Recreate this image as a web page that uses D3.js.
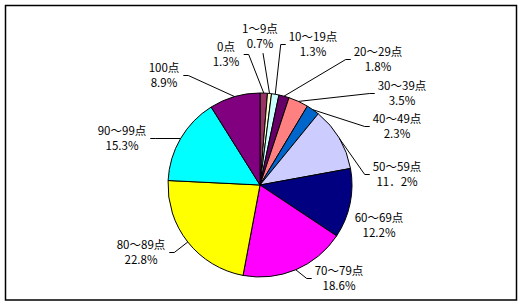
<!DOCTYPE html>
<html>
<head>
<meta charset="utf-8">
<script src="https://cdn.jsdelivr.net/npm/d3@7"></script>
<style>
  body { margin: 0; background: #fff; }
  text { font-family: "Noto Sans CJK JP", "DejaVu Sans", sans-serif; font-size: 11.5px; fill: #000; }
</style>
</head>
<body>
<div class="chart"></div>
<script>
// score bands and their share (%)
const categories = ['0点', '1～9点', '10～19点', '20～29点', '30～39点', '40～49点',
    '50～59点', '60～69点', '70～79点', '80～89点', '90～99点', '100点'];
const shares = [1.3, 0.7, 1.3, 1.8, 3.5, 2.3, 11.2, 12.2, 18.6, 22.8, 15.3, 8.9];
const shareLabels = ['1.3%', '0.7%', '1.3%', '1.8%', '3.5%', '2.3%',
    '11．2%', '12.2%', '18.6%', '22.8%', '15.3%', '8.9%'];

const colors = ['#993366', '#ffffcc', '#ccffff', '#660066', '#ff8080', '#0066cc',
    '#ccccff', '#000080', '#ff00ff', '#ffff00', '#00ffff', '#800080'];

// label placement (center of first line) and where the leader leaves the label
const labelXY = [[226, 47], [260, 29], [313, 37], [378, 52], [402, 86], [397, 119],
    [397, 167], [379, 218], [339, 271], [141, 245], [122, 131], [164, 68]];
const leaderSide = ['r', 'b', 'l', 'l', 'l', 'l', 'l', null, 'l', 'r', 'r', 'r'];

const width = 527, height = 306;
const cx = 260, cy = 185, radius = 92;

const svg = d3.select('.chart')
    .append('svg')
    .attr('width', width)
    .attr('height', height);

// frame
svg.append('rect')
    .attr('x', 5.5)
    .attr('y', 5.5)
    .attr('width', 511)
    .attr('height', 294.5)
    .attr('fill', 'none')
    .attr('stroke', '#000')
    .attr('stroke-width', 1.5);

const data = categories.map((c, i) => ({name: c, value: shares[i], label: shareLabels[i], i: i}));

const pie = d3.pie()
    .sort(null)
    .value(d => d.value);

const arc = d3.arc()
    .innerRadius(0)
    .outerRadius(radius);

const arcs = pie(data);

const g = svg.append('g')
    .attr('transform', `translate(${cx},${cy})`);

g.selectAll('path')
    .data(arcs)
    .enter()
    .append('path')
    .attr('d', arc)
    .attr('fill', d => colors[d.data.i])
    .attr('stroke', '#000')
    .attr('stroke-width', 1)
    .attr('stroke-linejoin', 'round');

// labels
const labels = svg.selectAll('.lbl')
    .data(arcs)
    .enter()
    .append('text')
    .attr('class', 'lbl')
    .attr('text-anchor', 'middle')
    .attr('x', d => labelXY[d.data.i][0])
    .attr('y', d => labelXY[d.data.i][1]);

labels.append('tspan')
    .attr('x', d => labelXY[d.data.i][0])
    .attr('dy', '0.36em')
    .text(d => d.data.name);

labels.append('tspan')
    .attr('x', d => labelXY[d.data.i][0])
    .attr('dy', 15)
    .text(d => d.data.label);

// leader lines
const line = d3.line();
labels.each(function(d) {
    const side = leaderSide[d.data.i];
    if (!side) return;
    const box = this.getBBox();
    const mid = (d.startAngle + d.endAngle) / 2;
    const end = [cx + radius * Math.sin(mid), cy - radius * Math.cos(mid)];
    const ly = labelXY[d.data.i][1] + 7.5;
    let pts;
    if (side === 'l') {
        pts = [[box.x - 3, ly], [box.x - 8, ly], end];
    } else if (side === 'r') {
        pts = [[box.x + box.width + 4, ly], [box.x + box.width + 9, ly], end];
    } else {
        pts = [[labelXY[d.data.i][0] + 3, box.y + box.height + 2], end];
    }
    svg.append('path')
        .attr('d', line(pts))
        .attr('fill', 'none')
        .attr('stroke', '#000')
        .attr('stroke-width', 1);
});
</script>
</body>
</html>
